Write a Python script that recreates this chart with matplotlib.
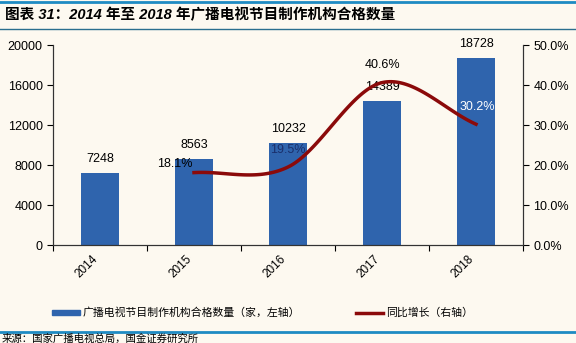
import numpy as np
import matplotlib.pyplot as plt
from matplotlib.lines import Line2D
from matplotlib.patches import Rectangle

plt.rcParams['font.family'] = ['Liberation Sans', 'Noto Sans CJK SC']

# 数据
years = ['2014', '2015', '2016', '2017', '2018']
counts = [7248, 8563, 10232, 14389, 18728]
growth_years = ['2015', '2016', '2017', '2018']
growth = [18.1, 19.5, 40.6, 30.2]

BG = '#FDF9F0'
BAR = '#2F64AD'
LINE = '#8B0A0A'


def smooth(xs, ys, n=40):
    # Catmull-Rom, like Excel's smoothed line
    xs = np.asarray(xs, float)
    ys = np.asarray(ys, float)
    px = np.concatenate([[2 * xs[0] - xs[1]], xs, [2 * xs[-1] - xs[-2]]])
    py = np.concatenate([[2 * ys[0] - ys[1]], ys, [2 * ys[-1] - ys[-2]]])
    ox, oy = [], []
    for i in range(1, len(px) - 2):
        t = np.linspace(0, 1, n)
        for p, o in ((px, ox), (py, oy)):
            p0, p1, p2, p3 = p[i - 1], p[i], p[i + 1], p[i + 2]
            o.extend(0.5 * ((2 * p1) + (-p0 + p2) * t
                            + (2 * p0 - 5 * p1 + 4 * p2 - p3) * t ** 2
                            + (-p0 + 3 * p1 - 3 * p2 + p3) * t ** 3))
    return np.array(ox), np.array(oy)


fig = plt.figure(figsize=(5.76, 3.43), dpi=100, facecolor=BG)
ax = fig.add_axes([0.092, 0.2857, 0.816, 0.583], facecolor=BG)
ax2 = ax.twinx()

x = np.arange(len(years))
bars = ax.bar(x, counts, width=0.4, color=BAR, zorder=2)
ax.set_xlim(-0.5, len(years) - 0.5)
ax.set_ylim(0, 20000)
ax.set_yticks(np.arange(0, 20001, 4000))
ax.set_xticks(np.arange(-0.5, len(years), 1), minor=False)
ax.set_xticklabels([])
ax.set_xticks(x, minor=True)
ax.set_xticklabels(years, minor=True, rotation=45, ha='right', fontsize=8.5)
ax.tick_params(axis='x', which='minor', length=0, pad=6)
ax.tick_params(axis='x', which='major', length=4, direction='out')
ax.tick_params(axis='y', labelsize=9, length=4, direction='out')

for b, v in zip(bars, counts):
    ax.annotate(f'{v}', (b.get_x() + b.get_width() / 2, v), xytext=(0, 10),
                textcoords='offset points', ha='center', va='center', fontsize=9)

gx = [years.index(y) for y in growth_years]
sx, sy = smooth(gx, growth)
ax2.plot(sx, sy, color=LINE, lw=2.5, zorder=3)
ax2.set_ylim(0, 50)
ax2.set_yticks(np.arange(0, 51, 10))
ax2.set_yticklabels([f'{v:.1f}%' for v in np.arange(0, 51, 10)])
ax2.tick_params(axis='y', labelsize=9, length=4, direction='out')

lab_off = [(-1, 6), (0, 12.5), (0, 12.5), (1, 12.5)]
lab_ha = ['right', 'center', 'center', 'center']
lab_col = ['black', '#1A2F6B', 'black', 'white']
for xi, v, off, ha, c in zip(gx, growth, lab_off, lab_ha, lab_col):
    ax2.annotate(f'{v}%', (xi, v), xytext=off, textcoords='offset points',
                 ha=ha, va='center', fontsize=9, color=c, zorder=4)

for a in (ax, ax2):
    a.spines['top'].set_visible(False)
    for s in ('left', 'right', 'bottom'):
        a.spines[s].set_color('#333333')
        a.spines[s].set_linewidth(0.8)

# 图例
handles = [Rectangle((0, 0), 1, 1, color=BAR),
           Line2D([], [], color=LINE, lw=2.5)]
fig.legend(handles, ['广播电视节目制作机构合格数量（家，左轴）', '同比增长（右轴）'],
           loc='center', bbox_to_anchor=(0.456, 0.088), ncol=2, frameon=False,
           fontsize=7.8, handlelength=2.5, handleheight=0.4, handletextpad=0.3,
           columnspacing=5.1)

# 标题与来源
fig.add_artist(Line2D([0, 1], [0.993, 0.993], color='#1E8BC3', lw=2))
fig.add_artist(Line2D([0, 1], [0.915, 0.915], color='#2A6F8F', lw=1))
fig.add_artist(Line2D([0, 1], [0.033, 0.033], color='#1E8BC3', lw=2))
fig.text(0.008, 0.956, '图表 31：2014 年至 2018 年广播电视节目制作机构合格数量',
         fontsize=10.5, fontweight='bold', fontstyle='italic', va='center', ha='left')
fig.text(0.003, 0.012, '来源：国家广播电视总局，国金证券研究所',
         fontsize=7.5, va='center', ha='left')

fig.savefig('out.png', dpi=100, facecolor=BG)
